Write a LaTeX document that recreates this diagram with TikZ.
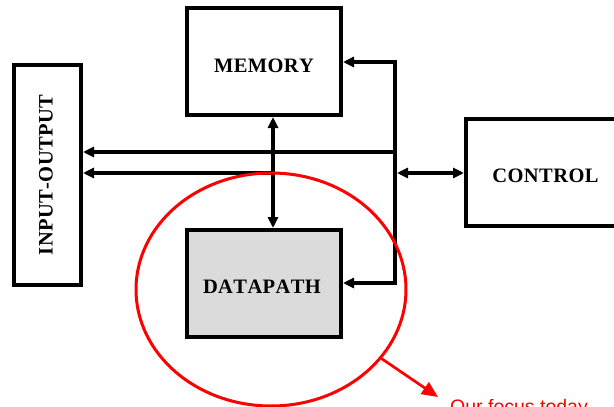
\documentclass[tikz,border=0pt]{standalone}
\usepackage{fontspec}
\setmainfont{Liberation Serif}
\newfontfamily\notefont{Liberation Sans}
\newfontfamily\unitfont[Kerning=Off, LetterSpace=2.0]{Liberation Serif}
\usetikzlibrary{arrows.meta,shapes.geometric,calc}

\tikzset{
  unit/.style={draw, line width=4pt, inner sep=0pt, minimum width=154pt, minimum height=107pt},
  unitlabel/.style={font=\unitfont\fontsize{20.5}{24}\selectfont\bfseries, inner sep=0pt},
  bus/.style={line width=3.6pt, line join=miter},
  tipb/.style={-{Triangle[length=11pt,width=10pt]}},
  tipbb/.style={{Triangle[length=11pt,width=10pt]}-{Triangle[length=11pt,width=10pt]}},
  focusline/.style={draw=red, line width=3pt},
}

\begin{document}
\begin{tikzpicture}[x=1pt, y=-1pt]
  \useasboundingbox (0,0) rectangle (614,407);

  % functional units
  \node[unit] (mem) at (264,61.5) {};
  \node[unit, fill=black!14] (dp) at (264,283.5) {};
  \node[unit] (ctl) at (543,172.5) {};
  \node[unit, minimum width=67pt, minimum height=220pt] (io) at (47.5,175) {};

  \node[unitlabel] at ($(mem.center)+(0,4)$) {MEMORY};
  \node[unitlabel] at ($(dp.center)+(-2,3.5)$) {DATAPATH};
  \node[unitlabel] at ($(ctl.center)+(2.5,3)$) {CONTROL};
  \node[unitlabel, rotate=90] at ($(io.center)+(-1.5,0)$) {INPUT-OUTPUT};

  % junction points of the wiring
  \coordinate (jt) at (395,62);
  \coordinate (jb) at (395,283);
  \coordinate (b1) at (395,152);
  \coordinate (b2) at (273,173);
  \coordinate (b3) at (397,173);

  % control lines to memory and datapath
  \draw[bus, tipbb] (jt -| mem.east) -- (jt) -- (jb) -- (jb -| dp.east);
  % buses to input-output
  \draw[bus, tipb] (b1) -- (b1 -| io.east);
  \draw[bus, tipb] (b2) -- (b2 -| io.east);
  % memory <-> datapath
  \draw[bus, tipbb] (b2 |- mem.south) -- (b2 |- dp.north);
  % wiring <-> control
  \draw[bus, tipbb] (b3) -- (b3 -| ctl.west);

  % highlighted region
  \node[ellipse, focusline, minimum width=270pt, minimum height=233pt, inner sep=0pt] (focus) at (271,289.5) {};
  \coordinate (ftip) at (438,397);
  \draw[red, line width=2.7pt, -{Triangle[length=16pt,width=14pt]}] (focus.-32) -- (ftip);
  \node[anchor=base west, inner sep=0pt, text=red, font=\notefont\fontsize{19.5}{22}\selectfont] (note) at (450,413) {Our focus today};
\end{tikzpicture}
\end{document}
